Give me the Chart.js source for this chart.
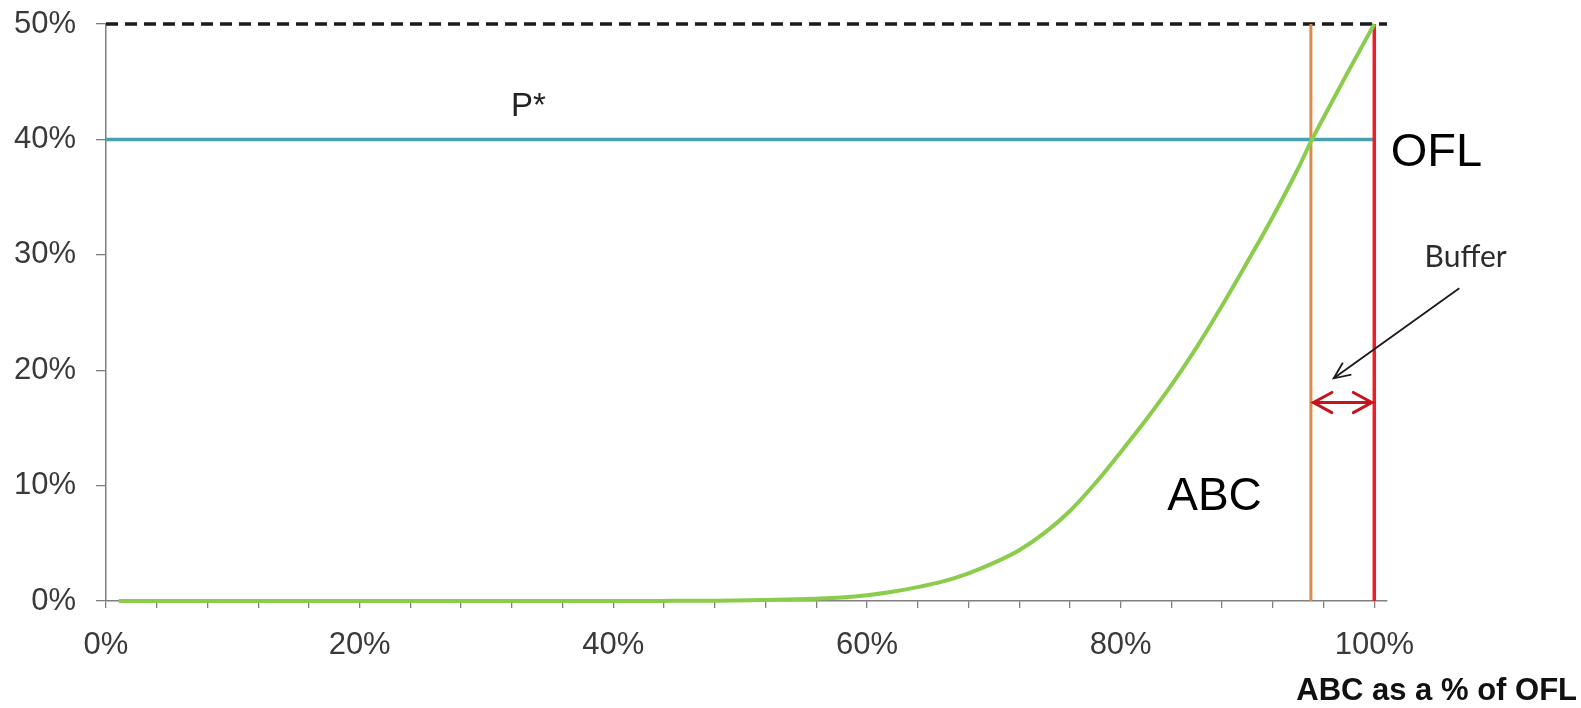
<!DOCTYPE html>
<html>
<head>
<meta charset="utf-8">
<script src="https://cdn.jsdelivr.net/npm/chart.js@4/dist/chart.umd.min.js"></script>
<style>
  html, body { margin: 0; padding: 0; background: #ffffff; }
  #wrap { width: 1581px; height: 708px; position: relative; }
</style>
</head>
<body>
<div id="wrap"><canvas id="c" width="1581" height="708"></canvas></div>
<script>
// ---- data ----
const curveX = [1, 10, 20, 30, 40, 44, 48, 52, 56, 58, 60, 62, 64, 66, 68, 70, 72, 74, 76, 78, 80, 82, 84, 86, 88, 90, 92, 94, 95, 96, 98, 100];
const curveY = [0, 0, 0, 0, 0, 0.01, 0.03, 0.08, 0.2, 0.3, 0.5, 0.8, 1.2, 1.7, 2.4, 3.3, 4.4, 5.9, 7.8, 10.2, 12.9, 15.7, 18.7, 22.0, 25.6, 29.4, 33.3, 37.5, 39.8, 41.9, 46.0, 50];
const pStarLevel = 40;      // P* horizontal line (%)
const abcLevel = 95;        // ABC vertical line (% of OFL)
const oflLevel = 100;       // OFL vertical line
const maxLevel = 50;        // dashed ceiling
const xTickValues = [0, 4, 8, 12, 16, 20, 24, 28, 32, 36, 40, 44, 48, 52, 56, 60, 64, 68, 72, 76, 80, 84, 88, 92, 96, 100];
const xLabelValues = [0, 20, 40, 60, 80, 100];
const yTickValues = [0, 10, 20, 30, 40, 50];
const xMax = 101;

// annotation texts (positions in data units)
const labels = [
  { text: 'P*',     x: 33.3,  y: 42.8, font: '33px "Liberation Sans", Arial', align: 'center', color: '#222' },
  { text: 'OFL',    x: 101.3, y: 38.8, font: '47px "Liberation Sans", Arial', align: 'left', color: '#000' },
  { text: 'ABC',    x: 87.4,  y: 9.0,  font: '46px "Liberation Sans", Arial', align: 'center', color: '#000' },
  { text: 'Buffer', x: 107.2, y: 29.8, font: '30px Lato, "Open Sans", sans-serif', align: 'center', color: '#2b2b2b' }
];
const blackArrow = { x1: 106.7, y1: 27.1, x2: 96.8, y2: 19.3 };
const bufferArrow = { x1: 95.2, x2: 99.8, y: 17.2 };
const axisTitle = 'ABC as a % of OFL';

const pts = curveX.map((x, i) => ({ x: x, y: curveY[i] }));

function arrowHead(ctx, tx, ty, fx, fy, len, spread) {
  const ang = Math.atan2(ty - fy, tx - fx);
  ctx.beginPath();
  ctx.moveTo(tx - len * Math.cos(ang - spread), ty - len * Math.sin(ang - spread));
  ctx.lineTo(tx, ty);
  ctx.lineTo(tx - len * Math.cos(ang + spread), ty - len * Math.sin(ang + spread));
  ctx.stroke();
}

const annot = {
  id: 'annot',
  afterDraw(chart) {
    const ctx = chart.ctx;
    const xs = chart.scales.x, ys = chart.scales.y;
    ctx.save();
    labels.forEach(l => {
      ctx.font = l.font;
      ctx.fillStyle = l.color;
      ctx.textAlign = l.align;
      ctx.textBaseline = 'middle';
      ctx.fillText(l.text, xs.getPixelForValue(l.x), ys.getPixelForValue(l.y));
    });
    // black arrow
    const ax1 = xs.getPixelForValue(blackArrow.x1), ay1 = ys.getPixelForValue(blackArrow.y1);
    const ax2 = xs.getPixelForValue(blackArrow.x2), ay2 = ys.getPixelForValue(blackArrow.y2);
    ctx.strokeStyle = '#1a1a1a';
    ctx.lineWidth = 1.8;
    ctx.beginPath(); ctx.moveTo(ax1, ay1); ctx.lineTo(ax2, ay2); ctx.stroke();
    arrowHead(ctx, ax2, ay2, ax1, ay1, 18, 0.42);
    // red double arrow
    const bx1 = xs.getPixelForValue(bufferArrow.x1), bx2 = xs.getPixelForValue(bufferArrow.x2);
    const by = ys.getPixelForValue(bufferArrow.y);
    ctx.strokeStyle = '#c4141c';
    ctx.lineWidth = 3;
    ctx.lineCap = 'round';
    ctx.beginPath(); ctx.moveTo(bx1, by); ctx.lineTo(bx2, by); ctx.stroke();
    arrowHead(ctx, bx1, by, bx2, by, 21, 0.5);
    arrowHead(ctx, bx2, by, bx1, by, 21, 0.5);
    // axis title
    ctx.font = 'bold 31px "Liberation Sans", Arial';
    ctx.fillStyle = '#111';
    ctx.textAlign = 'right';
    ctx.textBaseline = 'middle';
    ctx.fillText(axisTitle, chart.width - 4, 691);
    ctx.restore();
  }
};

new Chart(document.getElementById('c'), {
  type: 'scatter',
  data: {
    datasets: [
      { label: 'max', data: [{ x: 0, y: maxLevel }, { x: xMax, y: maxLevel }], showLine: true,
        borderColor: '#1a1a1a', borderWidth: 3.5, borderDash: [12, 7], pointRadius: 0, clip: false, order: 5 },
      { label: 'P*', data: [{ x: 0, y: pStarLevel }, { x: oflLevel, y: pStarLevel }], showLine: true,
        borderColor: '#4aa0ae', borderWidth: 3.5, pointRadius: 0, clip: false, order: 4 },
      { label: 'ABC', data: [{ x: abcLevel, y: 0 }, { x: abcLevel, y: maxLevel }], showLine: true,
        borderColor: '#dc8a4a', borderWidth: 3, pointRadius: 0, clip: false, order: 3 },
      { label: 'OFL', data: [{ x: oflLevel, y: 0 }, { x: oflLevel, y: maxLevel }], showLine: true,
        borderColor: '#ee1c25', borderWidth: 3.5, pointRadius: 0, clip: false, order: 2 },
      { label: 'curve', data: pts, showLine: true, cubicInterpolationMode: 'monotone',
        borderColor: '#8ccc4c', borderWidth: 4, pointRadius: 0, clip: false, order: 1 }
    ]
  },
  options: {
    responsive: false,
    animation: false,
    devicePixelRatio: 1,
    layout: { padding: { left: 0, right: 194, top: 24, bottom: 0 } },
    plugins: { legend: { display: false }, tooltip: { enabled: false }, title: { display: false } },
    scales: {
      x: {
        type: 'linear', min: 0, max: xMax,
        afterBuildTicks: s => { s.ticks = xTickValues.map(v => ({ value: v })); },
        afterFit: s => { s.height = 107; s.paddingLeft = 0; s.paddingRight = 0; s.paddingTop = 0; s.paddingBottom = 0; },
        grid: { drawOnChartArea: false, drawTicks: true, tickLength: 7, color: '#7f7f7f', lineWidth: 1.3 },
        border: { display: true, color: '#7f7f7f', width: 1.5 },
        ticks: {
          autoSkip: false, maxRotation: 0, padding: 19, color: '#3a3a3a',
          font: { family: '"Liberation Sans", Arial', size: 31 },
          callback: v => xLabelValues.includes(v) ? v + '%' : ''
        }
      },
      y: {
        type: 'linear', min: 0, max: maxLevel,
        afterBuildTicks: s => { s.ticks = yTickValues.map(v => ({ value: v })); },
        afterFit: s => { s.width = 106; s.paddingLeft = 0; s.paddingRight = 0; s.paddingTop = 0; s.paddingBottom = 0; },
        grid: { drawOnChartArea: false, drawTicks: true, tickLength: 10, color: '#7f7f7f', lineWidth: 1.3 },
        border: { display: true, color: '#7f7f7f', width: 1.5 },
        ticks: {
          padding: 20, color: '#3a3a3a',
          font: { family: '"Liberation Sans", Arial', size: 31 },
          callback: v => v + '%'
        }
      }
    }
  },
  plugins: [annot]
});
</script>
</body>
</html>
